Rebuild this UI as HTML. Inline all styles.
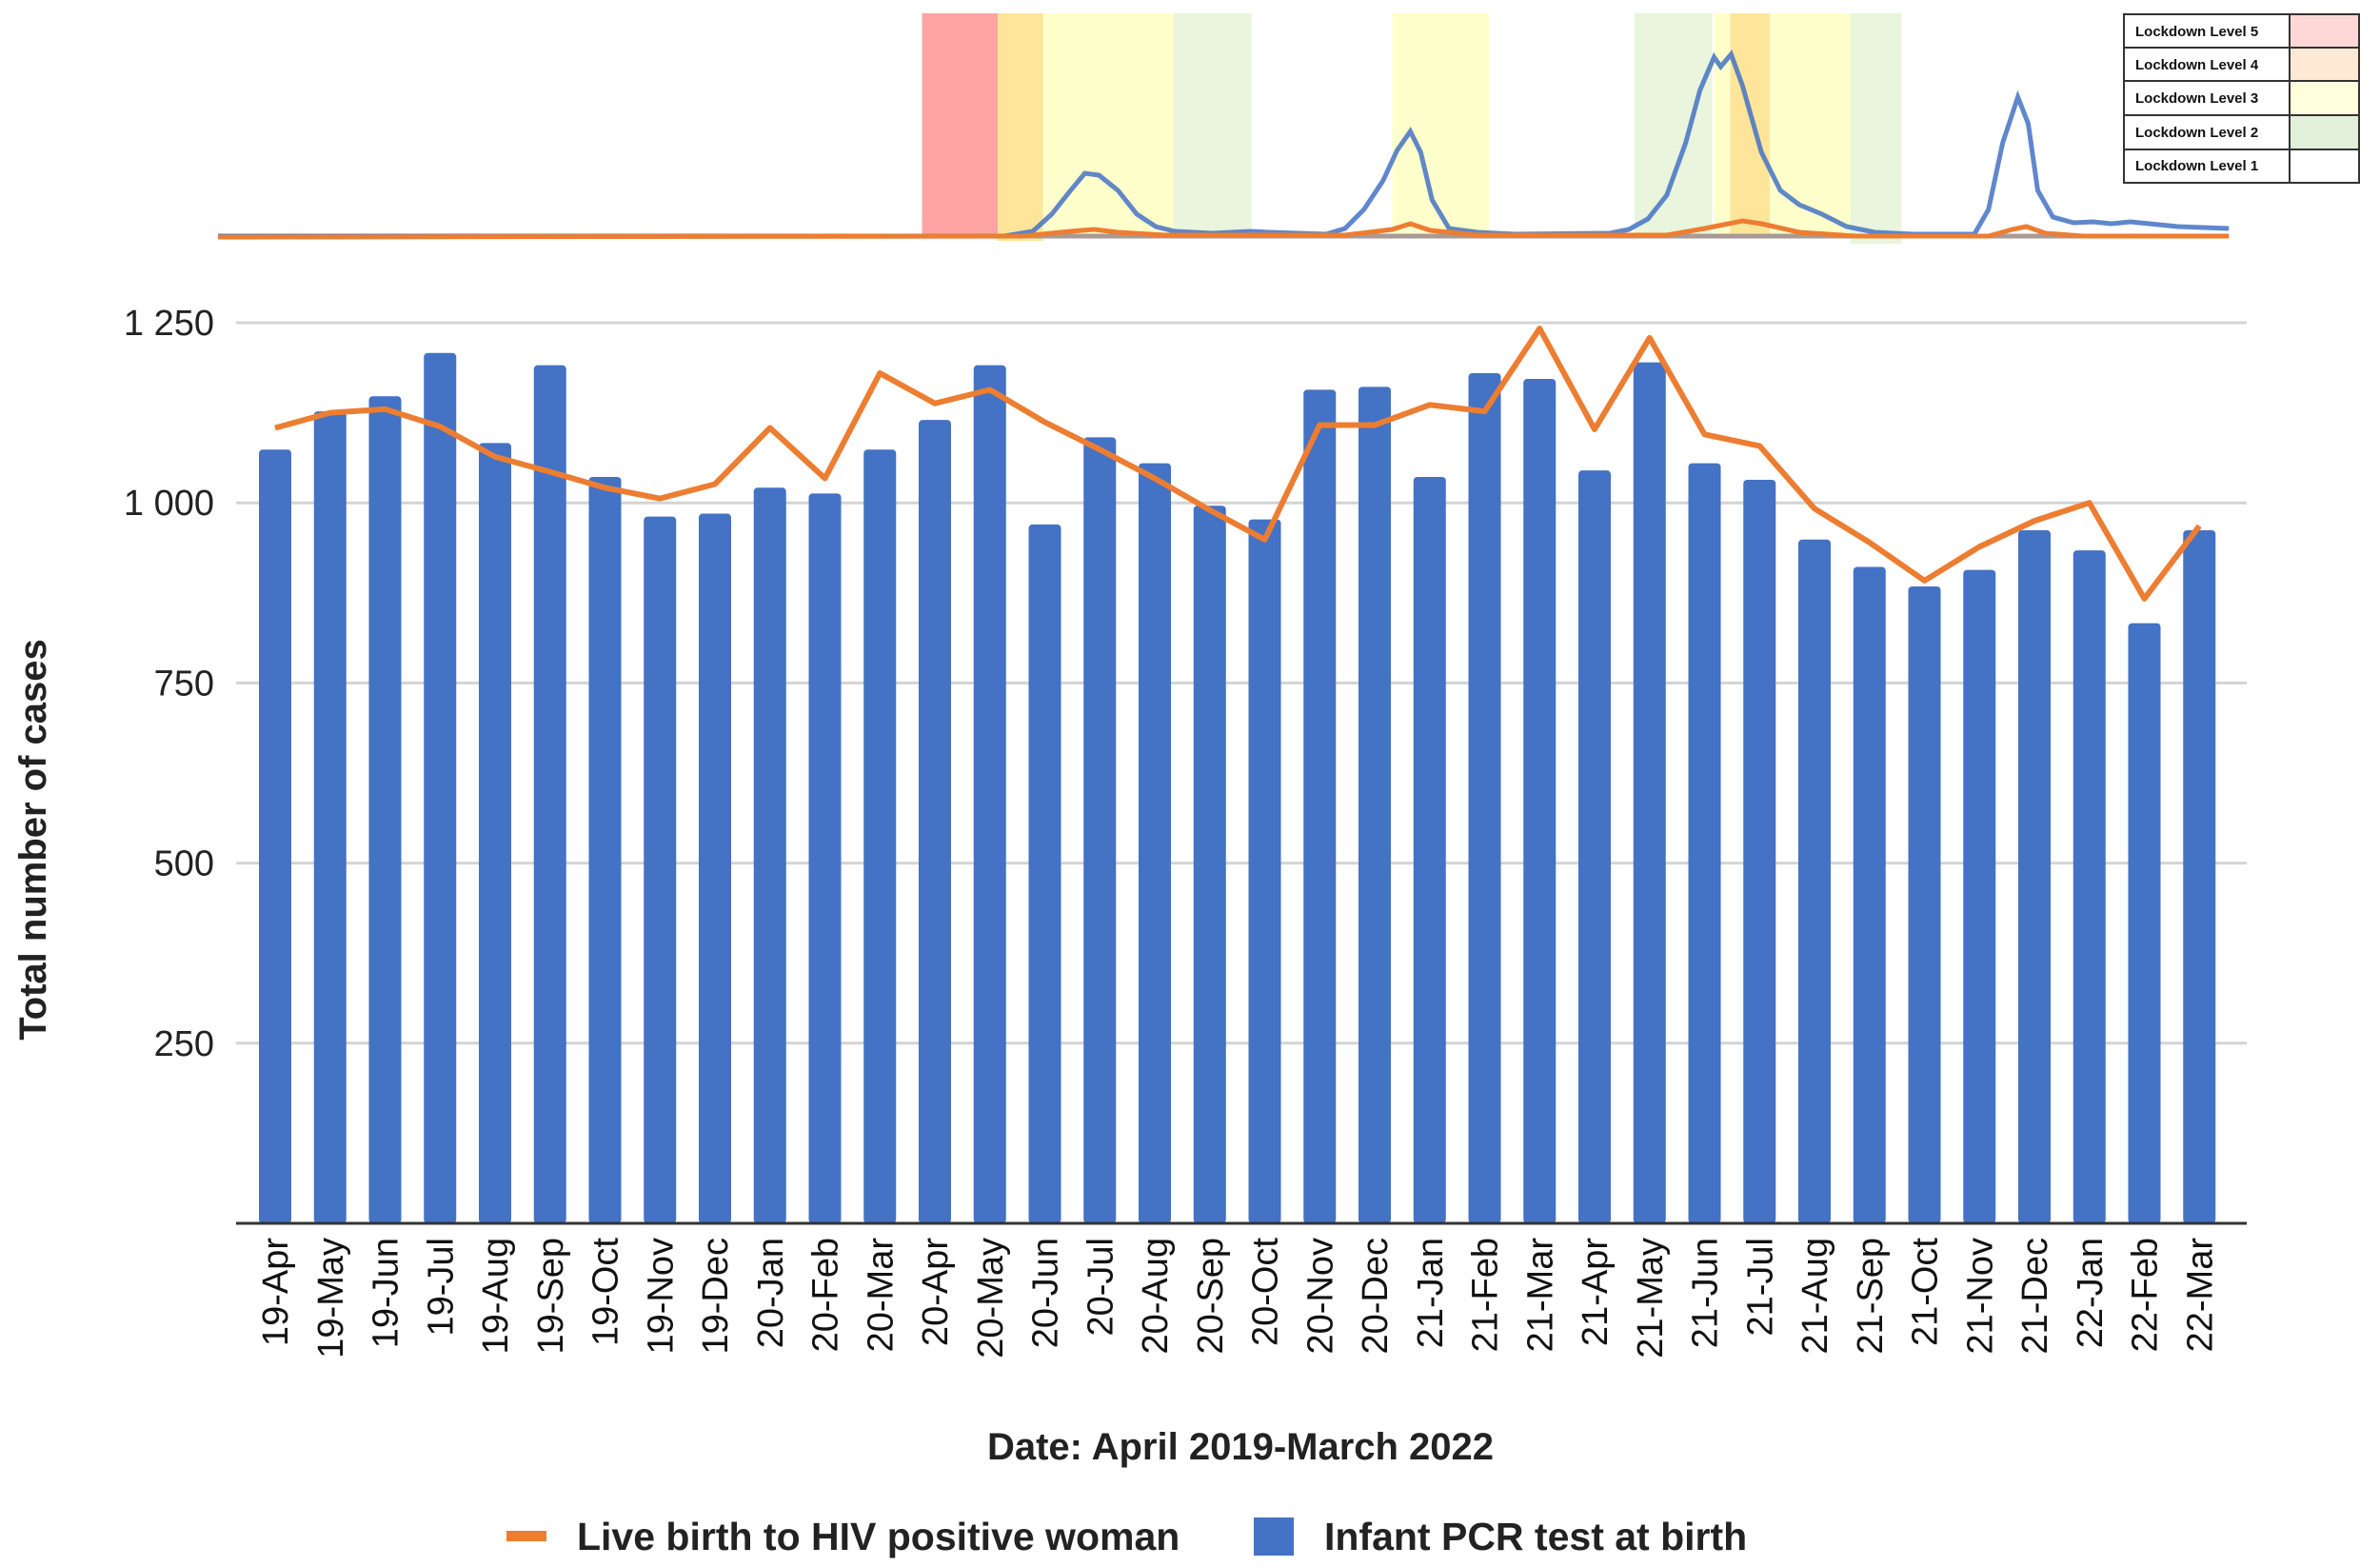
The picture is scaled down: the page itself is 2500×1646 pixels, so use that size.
<!DOCTYPE html>
<html><head><meta charset="utf-8"><style>
html,body{margin:0;padding:0;background:#fff;}
svg{display:block;font-family:"Liberation Sans",sans-serif;}
</style></head><body>
<svg id="chart" width="2500" height="1646" viewBox="0 0 2500 1646">
  <g id="inset" transform="translate(229,0) scale(0.994,1) translate(-229,0)">
    <rect x="973" y="14" width="80" height="234" fill="#ffa4a4"/>
    <rect x="1053" y="14" width="48" height="239" fill="#ffe59a"/>
    <rect x="1101" y="14" width="138" height="234" fill="#ffffcc"/>
    <rect x="1239" y="14" width="82" height="234" fill="#e9f5dc"/>
    <rect x="1470" y="14" width="102" height="234" fill="#ffffcc"/>
    <rect x="1726" y="14" width="82" height="234" fill="#e9f5dc"/>
    <rect x="1810" y="14" width="17" height="234" fill="#ffffcc"/>
    <rect x="1827" y="14" width="42" height="234" fill="#ffe59a"/>
    <rect x="1869" y="14" width="85" height="234" fill="#ffffcc"/>
    <rect x="1954" y="14" width="54" height="242" fill="#e9f5dc"/>
    <line x1="229" y1="248" x2="2354" y2="248" stroke="#a89a94" stroke-width="5"/>
    <polyline fill="none" stroke="#4472c4" stroke-width="5" stroke-opacity="0.85"
      points="229,248 1060,248 1090,243 1110,225 1130,200 1145,182 1160,184 1180,200 1200,225 1220,238 1240,243 1280,245 1320,243 1340,244 1400,246 1420,240 1440,220 1460,190 1475,158 1489,138 1500,160 1512,210 1530,240 1560,244 1600,246 1700,245 1720,241 1740,230 1760,205 1780,150 1795,95 1810,60 1817,70 1828,57 1840,90 1860,160 1880,200 1900,215 1924,225 1950,238 1980,244 2020,246 2085,246 2100,220 2115,150 2131,102 2142,130 2152,200 2168,228 2190,234 2210,233 2230,235 2250,233 2270,235 2300,238 2354,240"/>
    <polyline fill="none" stroke="#ed7d31" stroke-width="5"
      points="229,249 1080,248 1130,243 1155,241 1180,244 1230,247 1420,247 1470,241 1489,235 1510,242 1560,247 1760,247 1800,240 1840,232 1860,235 1900,244 1960,248 2100,248 2125,241 2140,238 2160,245 2200,248 2354,248"/>
  </g>
  <g id="lockdown-legend" font-weight="bold" font-size="15" fill="#111" transform="translate(-10,0)">
    <rect x="2241" y="15" width="174" height="177" fill="#fff" stroke="#333" stroke-width="2"/>
    <rect x="2415" y="15" width="73" height="35" fill="#ffd7d7" stroke="#333" stroke-width="2"/>
    <rect x="2415" y="50" width="73" height="35" fill="#fde9d4" stroke="#333" stroke-width="2"/>
    <rect x="2415" y="85" width="73" height="36" fill="#ffffdd" stroke="#333" stroke-width="2"/>
    <rect x="2415" y="121" width="73" height="36" fill="#e2efd9" stroke="#333" stroke-width="2"/>
    <rect x="2415" y="157" width="73" height="35" fill="#fff" stroke="#333" stroke-width="2"/>
    <line x1="2241" y1="50" x2="2415" y2="50" stroke="#333" stroke-width="2"/>
    <line x1="2241" y1="85" x2="2415" y2="85" stroke="#333" stroke-width="2"/>
    <line x1="2241" y1="121" x2="2415" y2="121" stroke="#333" stroke-width="2"/>
    <line x1="2241" y1="157" x2="2415" y2="157" stroke="#333" stroke-width="2"/>
    <text x="2253" y="38">Lockdown Level 5</text>
    <text x="2253" y="73">Lockdown Level 4</text>
    <text x="2253" y="108">Lockdown Level 3</text>
    <text x="2253" y="144">Lockdown Level 2</text>
    <text x="2253" y="179">Lockdown Level 1</text>
  </g>
  <g id="grid"></g>
  <g id="yticks" font-size="38" fill="#222" text-anchor="end"></g>
  <g id="bars"></g>
  <g id="lineg"></g>
  <line x1="248" y1="1285" x2="2360" y2="1285" stroke="#333" stroke-width="3"/>
  <g id="xticks" font-size="38" fill="#111"></g>
  <text x="0" y="0" transform="translate(48,882) rotate(-90)" text-anchor="middle" font-size="40" font-weight="bold" fill="#222">Total number of cases</text>
  <text x="1303" y="1533" text-anchor="middle" font-size="40" font-weight="bold" fill="#222">Date: April 2019-March 2022</text>
  <g font-size="41" font-weight="bold" fill="#222">
    <rect x="532" y="1608" width="42" height="11" fill="#ed7d31"/>
    <text x="606" y="1628">Live birth to HIV positive woman</text>
    <rect x="1317" y="1594" width="42" height="40" fill="#4472c4"/>
    <text x="1391" y="1628">Infant PCR test at birth</text>
  </g>
</svg>
<script>
const categories = ["19-Apr","19-May","19-Jun","19-Jul","19-Aug","19-Sep","19-Oct","19-Nov","19-Dec","20-Jan","20-Feb","20-Mar","20-Apr","20-May","20-Jun","20-Jul","20-Aug","20-Sep","20-Oct","20-Nov","20-Dec","21-Jan","21-Feb","21-Mar","21-Apr","21-May","21-Jun","21-Jul","21-Aug","21-Sep","21-Oct","21-Nov","21-Dec","22-Jan","22-Feb","22-Mar"];
const pcrTests = [1074,1127,1148,1208,1083,1191,1036,981,985,1021,1013,1074,1115,1191,970,1091,1055,996,977,1157,1161,1036,1180,1172,1045,1195,1055,1032,949,911,884,907,962,934,833,962];
const liveBirths = [1104,1125,1130,1106,1064,1043,1021,1006,1026,1104,1034,1180,1138,1157,1112,1074,1034,990,949,1108,1108,1136,1127,1242,1102,1229,1095,1079,992,945,892,939,975,1000,867,968];
const yTicks = [250,500,750,1000,1250];
const yTickLabels = ["250","500","750","1 000","1 250"];

const NS = "http://www.w3.org/2000/svg";
const y = v => 1285 - v * (1285 - 339) / 1250;
const x = i => 289 + i * 57.75;
const barW = 34;
function mk(tag, attrs, parent){ const e = document.createElementNS(NS, tag); for (const k in attrs) e.setAttribute(k, attrs[k]); parent.appendChild(e); return e; }

const grid = document.getElementById('grid'), yt = document.getElementById('yticks');
yTicks.forEach((t, i) => {
  const l = mk('line', {x1:248, x2:2360, y1:y(t), y2:y(t), stroke:'#d4d4d4', 'stroke-width':3}, grid);
  
  
  const tx = mk('text', {x:225, y:y(t) + 13}, yt);
  tx.textContent = yTickLabels[i];
  
  
});

const bars = document.getElementById('bars');
pcrTests.forEach((v, i) => {
  const r = mk('rect', {x:x(i) - barW/2, y:y(v), width:barW, height:1285 - y(v), rx:4, fill:'#4472c4'}, bars);
  
  
});

const pl = mk('polyline', {fill:'none', stroke:'#ed7d31', 'stroke-width':6, 'stroke-linejoin':'round',
  points: liveBirths.map((v, i) => x(i) + ',' + y(v)).join(' ')}, document.getElementById('lineg'));



const xt = document.getElementById('xticks');
categories.forEach((c, i) => {
  const t = mk('text', {x:0, y:0, transform:'translate(' + (x(i) + 13) + ',1300) rotate(-90)', 'text-anchor':'end'}, xt);
  t.textContent = c;
  
  
});
</script>
</body></html>
